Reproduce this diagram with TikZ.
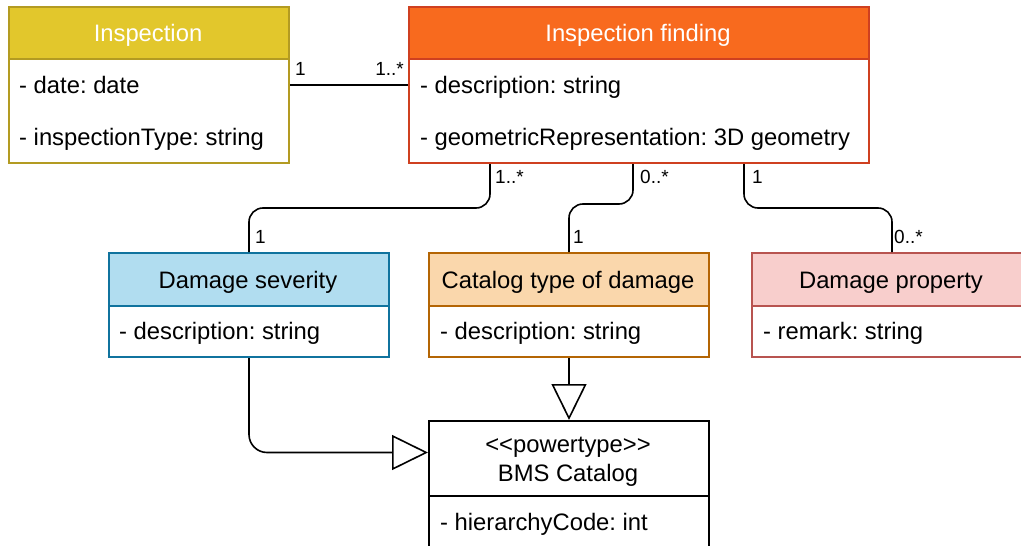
\documentclass[tikz,border=0pt]{standalone}
\usepackage{fontspec}
\newfontfamily\uml{Liberation Sans}
\usetikzlibrary{arrows.meta,calc}
\frenchspacing
\definecolor{inspFill}{HTML}{E2C72C}
\definecolor{inspLine}{HTML}{B39B22}
\definecolor{findFill}{HTML}{F86A1E}
\definecolor{findLine}{HTML}{CF4020}
\definecolor{sevFill}{HTML}{B1DDF0}
\definecolor{sevLine}{HTML}{10739E}
\definecolor{catFill}{HTML}{FAD7AC}
\definecolor{catLine}{HTML}{B46504}
\definecolor{propFill}{HTML}{F8CECC}
\definecolor{propLine}{HTML}{B85450}
\begin{document}
\begin{tikzpicture}[x=1pt,y=-1pt,
  box/.style={rectangle, draw, line width=2pt, anchor=north west,
    minimum width=280pt, inner sep=0pt},
  hdrtxt/.style={anchor=base, inner sep=0pt, font=\uml\frenchspacing\fontsize{23.8}{28}\selectfont},
  attr/.style={anchor=base west, inner sep=0pt, font=\uml\frenchspacing\fontsize{23.8}{28}\selectfont},
  mult/.style={anchor=base west, inner sep=0pt, font=\uml\fontsize{19}{22}\selectfont},
  assoc/.style={draw=black, line width=1.6pt, rounded corners=14pt},
  gen/.style={assoc, -{Triangle[open, length=36pt, width=35pt, fill=white]}}]
\useasboundingbox (0,0) rectangle (1021,546);
\clip (0,0) rectangle (1021,546);

% Inspection
\node[box, fill=white, draw=inspLine, minimum height=104pt] (inspbody) at (8,58) {};
\node[box, fill=inspFill, draw=inspLine, minimum height=52pt] (insphdr) at (8,6) {};
\node[hdrtxt, text=white] (insptitle) at (148,41.5) {Inspection};
\node[attr] (inspa1) at (19,93) {- date: date};
\node[attr] (inspa2) at (19,145) {- inspectionType: string};

% Inspection finding
\node[box, fill=white, draw=findLine, minimum width=460pt, minimum height=104pt] (fbody) at (408,58) {};
\node[box, fill=findFill, draw=findLine, minimum width=460pt, minimum height=52pt] (fhdr) at (408,6) {};
\node[hdrtxt, text=white] (ftitle) at (638,41.5) {Inspection finding};
\node[attr] (fa1) at (420,93) {- description: string};
\node[attr] (fa2) at (420,145) {- geometricRepresentation: 3D geometry};

% Damage severity
\node[box, fill=white, draw=sevLine, minimum height=51pt] (sevbody) at (108,305) {};
\node[box, fill=sevFill, draw=sevLine, minimum height=53pt] (sevhdr) at (108,252) {};
\node[hdrtxt] (sevtitle) at (248,288) {Damage severity};
\node[attr] (seva1) at (119,339) {- description: string};

% Catalog type of damage
\node[box, fill=white, draw=catLine, minimum height=51pt] (catbody) at (428,305) {};
\node[box, fill=catFill, draw=catLine, minimum height=53pt] (cathdr) at (428,252) {};
\node[hdrtxt] (cattitle) at (568,288) {Catalog type of damage};
\node[attr] (cata1) at (440,339) {- description: string};

% Damage property
\node[box, fill=white, draw=propLine, minimum height=51pt] (propbody) at (751,305) {};
\node[box, fill=propFill, draw=propLine, minimum height=53pt] (prophdr) at (751,252) {};
\node[hdrtxt] (proptitle) at (891,288) {Damage property};
\node[attr] (propa1) at (763,339) {- remark: string};

% BMS Catalog (powertype)
\node[box, fill=white, draw=black, minimum height=80pt] (bmsbody) at (428,495) {};
\node[box, fill=white, draw=black, minimum height=75pt] (bmshdr) at (428,420) {};
\node[hdrtxt] (bmsst) at (568,452) {<<powertype>>};
\node[hdrtxt] (bmstitle) at (568,481) {BMS Catalog};
\node[attr] (bmsa1) at (440,530) {- hierarchyCode: int};

% associations
\draw[assoc] ([yshift=26pt]inspbody.east) -- ([yshift=26pt]fbody.west);
\node[mult] (m1) at (295,75) {1};
\node[mult, anchor=base east] (m2) at (404,75) {1..*};

\coordinate (f1) at ([xshift=82pt]fbody.south west);
\coordinate (f2) at ([xshift=225pt]fbody.south west);
\coordinate (f3) at ([xshift=336pt]fbody.south west);
\coordinate (k1) at (0,208);
\coordinate (k2) at (0,204);

\draw[assoc] (f1) -- (f1 |- k1) -| (sevhdr.north);
\node[mult] (m3) at (495,183) {1..*};
\node[mult] (m4) at (255,243) {1};

\draw[assoc] (f2) -- (f2 |- k2) -| (cathdr.north);
\node[mult] (m5) at (640,183) {0..*};
\node[mult] (m6) at (573,243) {1};

\draw[assoc] (f3) -- (f3 |- k1) -| (prophdr.north);
\node[mult] (m7) at (752,183) {1};
\node[mult] (m8) at (894,243) {0..*};

% generalizations
\draw[gen] (catbody.south) -- (bmshdr.north);
\draw[gen, rounded corners=18pt] (sevbody.south) |- ([yshift=6pt]bmshdr.west);
\end{tikzpicture}
\end{document}
